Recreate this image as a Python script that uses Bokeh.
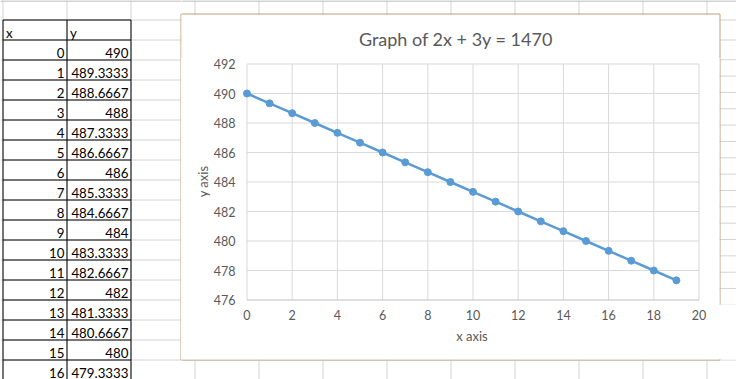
from bokeh.plotting import figure
from bokeh.models import Range1d, FixedTicker
from bokeh.layouts import row, column
from bokeh.embed import file_html
from bokeh.resources import INLINE
from bokeh.core.properties import value

# ---------------- data ----------------
x_vals = [0, 1, 2, 3, 4, 5, 6, 7, 8, 9, 10, 11, 12, 13, 14, 15, 16, 17, 18, 19]
y_vals = [490, 489.3333, 488.6667, 488, 487.3333, 486.6667, 486, 485.3333,
          484.6667, 484, 483.3333, 482.6667, 482, 481.3333, 480.6667, 480,
          479.3333, 478.6667, 478, 477.3333]
x_ticks = [0, 2, 4, 6, 8, 10, 12, 14, 16, 18, 20]
y_ticks = [476, 478, 480, 482, 484, 486, 488, 490, 492]
title_text = "Graph of 2x + 3y = 1470"
x_label = "x axis"
y_label = "y axis"
table_header = ["x", "y"]
table_visible_rows = 17

# ---------------- styles / layout constants ----------------
FONT = "Lato"
W, H = 736, 379
COL_EDGES = [2.5 + 64 * k for k in range(12)]
ROW_EDGES = [19.5 + 20 * k for k in range(19)]
TABLE_L, TABLE_M, TABLE_R = 2.5, 66.5, 130.5
TABLE_TOP = 19.5
BOX_L, BOX_T, BOX_R, BOX_B = 180.5, 13.5, 719.5, 359.5
GRID_SHEET = "#d4d4d4"
BORDER = "#c4a07e"
BLUE = "#5b9bd5"
TXT = "#595959"
BASE_OFF = 12.5
TABLE_FONT_SIZE = "13.3px"
TITLE_X, TITLE_Y = 455.5, 38.5
PLOT_TOP = 58


def fmt(v):
    s = f"{v:.4f}".rstrip("0").rstrip(".")
    return s


def sheet(x0, x1, y0, y1, with_table=False, with_title=False):
    f = figure(width=x1 - x0, height=y1 - y0, x_range=Range1d(x0, x1),
               y_range=Range1d(y1, y0), x_axis_type=None, y_axis_type=None,
               toolbar_location=None, output_backend="svg", min_border=0,
               outline_line_color=None, title=None,
               background_fill_color="white", border_fill_color="white")
    f.grid.visible = False
    n = len(COL_EDGES)
    f.segment(x0=COL_EDGES, y0=[0] * n, x1=COL_EDGES, y1=[H] * n,
              line_color=GRID_SHEET, line_width=1)
    m = len(ROW_EDGES)
    f.segment(x0=[0] * m, y0=ROW_EDGES, x1=[W] * m, y1=ROW_EDGES,
              line_color=GRID_SHEET, line_width=1)
    f.segment(x0=[0], y0=[0.5], x1=[W], y1=[0.5], line_color="#a8a8a8", line_width=1)
    if with_table:
        rows_y = [r for r in ROW_EDGES]
        k = len(rows_y)
        f.segment(x0=[TABLE_L] * k, y0=rows_y, x1=[TABLE_R] * k, y1=rows_y,
                  line_color="black", line_width=1)
        vx = [TABLE_L, TABLE_M, TABLE_R]
        f.segment(x0=vx, y0=[TABLE_TOP] * 3, x1=vx, y1=[H] * 3,
                  line_color="black", line_width=1)
        # header
        f.text(x=[TABLE_L + 3, TABLE_M + 3], y=[TABLE_TOP + BASE_OFF] * 2, text=table_header,
               text_align="left", text_baseline="alphabetic",
               text_font=value(FONT), text_font_size=TABLE_FONT_SIZE, text_color="black")
        xs = x_vals[:table_visible_rows]
        ys = y_vals[:table_visible_rows]
        base = [TABLE_TOP + 20 * (i + 1) + BASE_OFF for i in range(len(xs))]
        f.text(x=[TABLE_M - 2.5] * len(xs), y=base, text=[str(v) for v in xs],
               text_align="right", text_baseline="alphabetic",
               text_font=value(FONT), text_font_size=TABLE_FONT_SIZE, text_color="black")
        f.text(x=[TABLE_R - 2.5] * len(ys), y=base, text=[fmt(v) for v in ys],
               text_align="right", text_baseline="alphabetic",
               text_font=value(FONT), text_font_size=TABLE_FONT_SIZE, text_color="black")
    # chart area (white) and its border
    f.quad(left=[BOX_L + 0.5], right=[BOX_R - 0.5], top=[BOX_T + 0.5], bottom=[BOX_B - 0.5],
           fill_color="white", line_color=None)
    f.line(x=[BOX_L, BOX_R, BOX_R, BOX_L, BOX_L], y=[BOX_T, BOX_T, BOX_B, BOX_B, BOX_T],
           line_color=BORDER, line_width=1)
    if with_title:
        f.text(x=[TITLE_X], y=[TITLE_Y], text=[title_text], text_align="center",
               text_baseline="alphabetic", text_font=value(FONT),
               text_font_size="18px", text_color=TXT)
    return f


L = sheet(0, 181, 0, 379, with_table=True)
T = sheet(181, 736, 0, PLOT_TOP, with_title=True)
R = sheet(719, 736, PLOT_TOP, 359)
B = sheet(181, 736, 359, 379)

# ---------------- chart ----------------
C = figure(width=538, height=359 - PLOT_TOP, title=None,
           x_range=Range1d(-0.2876, 20.199), y_range=Range1d(475.695, 492.373),
           toolbar_location=None, output_backend="svg",
           min_border_left=59, min_border_right=16, min_border_top=0, min_border_bottom=55,
           outline_line_color=None, background_fill_color="white", border_fill_color="white")
C.grid.visible = False

# gridlines and axis lines drawn from tick arrays
gx = x_ticks[1:]
C.segment(x0=gx, y0=[y_ticks[0]] * len(gx), x1=gx, y1=[y_ticks[-1]] * len(gx),
          line_color="#d9d9d9", line_width=1)
gy = y_ticks[1:]
C.segment(x0=[x_ticks[0]] * len(gy), y0=gy, x1=[x_ticks[-1]] * len(gy), y1=gy,
          line_color="#d9d9d9", line_width=1)
C.segment(x0=[x_ticks[0]], y0=[y_ticks[0]], x1=[x_ticks[0]], y1=[y_ticks[-1]],
          line_color="#d9d9d9", line_width=1)
C.segment(x0=[x_ticks[0]], y0=[y_ticks[0]], x1=[x_ticks[-1]], y1=[y_ticks[0]],
          line_color="#bfbfbf", line_width=1)

C.line(x_vals, y_vals, line_color=BLUE, line_width=2.5)
C.scatter(x_vals, y_vals, size=7, fill_color=BLUE, line_color=BLUE)

for ax, ticks, lab in ((C.xaxis, x_ticks, x_label), (C.yaxis, y_ticks, y_label)):
    ax.ticker = FixedTicker(ticks=ticks)
    ax.axis_line_color = None
    ax.major_tick_line_color = None
    ax.minor_tick_line_color = None
    ax.major_tick_out = 0
    ax.major_tick_in = 0
    ax.minor_tick_out = 0
    ax.major_label_text_font = FONT
    ax.major_label_text_font_size = "12.5px"
    ax.major_label_text_color = TXT
    ax.major_label_standoff = 5
    ax.axis_label = lab
    ax.axis_label_text_font = FONT
    ax.axis_label_text_font_size = "13px"
    ax.axis_label_text_font_style = "normal"
    ax.axis_label_text_color = TXT
C.xaxis.axis_label_standoff = 5
C.yaxis.axis_label_standoff = 0

layout = row(L, column(T, row(C, R), B))

open("out.html", "w").write(file_html(layout, INLINE))
